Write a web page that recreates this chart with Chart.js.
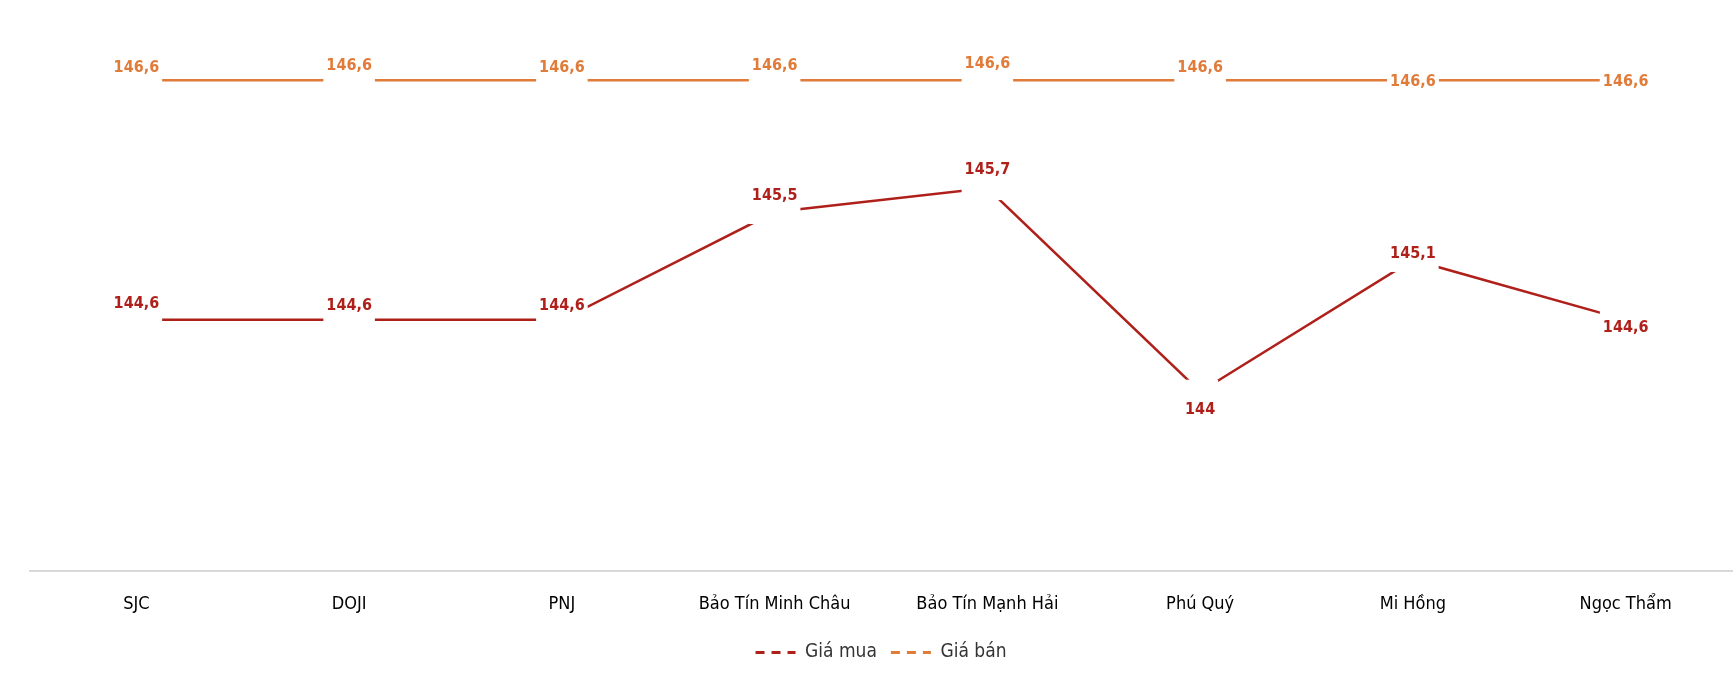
<!DOCTYPE html>
<html><head><meta charset="utf-8">
<script src="https://cdn.jsdelivr.net/npm/chart.js@4/dist/chart.umd.min.js"></script>
<style>html,body{margin:0;background:#fff}#wrap{width:1734px;height:676px}</style>
</head><body><div id="wrap"><canvas id="c"></canvas></div>
<script>
const categories = ['SJC', 'DOJI', 'PNJ', 'Bảo Tín Minh Châu', 'Bảo Tín Mạnh Hải', 'Phú Quý', 'Mi Hồng', 'Ngọc Thẩm'];
const buyPrices = [144.6, 144.6, 144.6, 145.5, 145.7, 144, 145.1, 144.6];
const sellPrices = [146.6, 146.6, 146.6, 146.6, 146.6, 146.6, 146.6, 146.6];
// vertical label offsets (px) relative to each point
const buyLabelDy = [-16, -14, -14, -16, -18, 18, -6, 8];
const sellLabelDy = [-12, -14, -12, -14, -16, -12, 2, 2];

const RED = '#b0201a', ORANGE = '#e07b39';
const labelFont = "bold 16px 'Liberation Sans Narrow', 'DejaVu Sans Condensed', sans-serif";

const pointLabels = {
    id: 'pointLabels',
    afterDatasetsDraw(chart) {
        const ctx = chart.ctx;
        ctx.save();
        ctx.font = labelFont;
        ctx.textAlign = 'center';
        ctx.textBaseline = 'middle';
        chart.data.datasets.forEach((ds, i) => {
            const meta = chart.getDatasetMeta(i);
            meta.data.forEach((pt, j) => {
                const txt = String(ds.data[j]).replace('.', ',');
                const w = ctx.measureText(txt).width + 6;
                const dy = ds.labelDy[j];
                ctx.fillStyle = '#fff';
                ctx.fillRect(pt.x - w / 2, pt.y - 12, w, 24);
                ctx.fillRect(pt.x - w / 2, pt.y + dy - 10, w, 20);
                ctx.fillStyle = ds.borderColor;
                ctx.fillText(txt, pt.x, pt.y + dy);
            });
        });
        ctx.restore();
    }
};

new Chart(document.getElementById('c'), {
    type: 'line',
    data: {
        labels: categories,
        datasets: [
            { label: 'Giá mua', data: buyPrices, labelDy: buyLabelDy, borderColor: RED, borderWidth: 2.5, pointRadius: 0, tension: 0 },
            { label: 'Giá bán', data: sellPrices, labelDy: sellLabelDy, borderColor: ORANGE, borderWidth: 2.5, pointRadius: 0, tension: 0 }
        ]
    },
    options: {
        responsive: true,
        maintainAspectRatio: false,
        animation: false,
        layout: { padding: { left: 30, right: 2, top: 6, bottom: 4 } },
        scales: {
            x: {
                offset: true,
                grid: { display: false },
                border: { color: '#d9d9d9', width: 2 },
                ticks: { color: '#000', padding: 14, font: { family: "'Liberation Sans Narrow', 'DejaVu Sans Condensed', sans-serif", size: 18 } }
            },
            y: { display: false, min: 142.5, max: 147.22 }
        },
        plugins: {
            tooltip: { enabled: false },
            legend: {
                position: 'bottom',
                labels: {
                    usePointStyle: true,
                    pointStyleWidth: 40,
                    padding: 14,
                    color: '#333',
                    font: { family: "'Liberation Sans Narrow', 'DejaVu Sans Condensed', sans-serif", size: 19 },
                    generateLabels: (chart) => chart.data.datasets.map((ds, i) => ({
                        text: ds.label, datasetIndex: i, pointStyle: 'line',
                        strokeStyle: ds.borderColor, fillStyle: ds.borderColor,
                        lineWidth: 3, lineDash: [9, 7], fontColor: '#333'
                    }))
                }
            }
        }
    },
    plugins: [pointLabels]
});
</script></body></html>
